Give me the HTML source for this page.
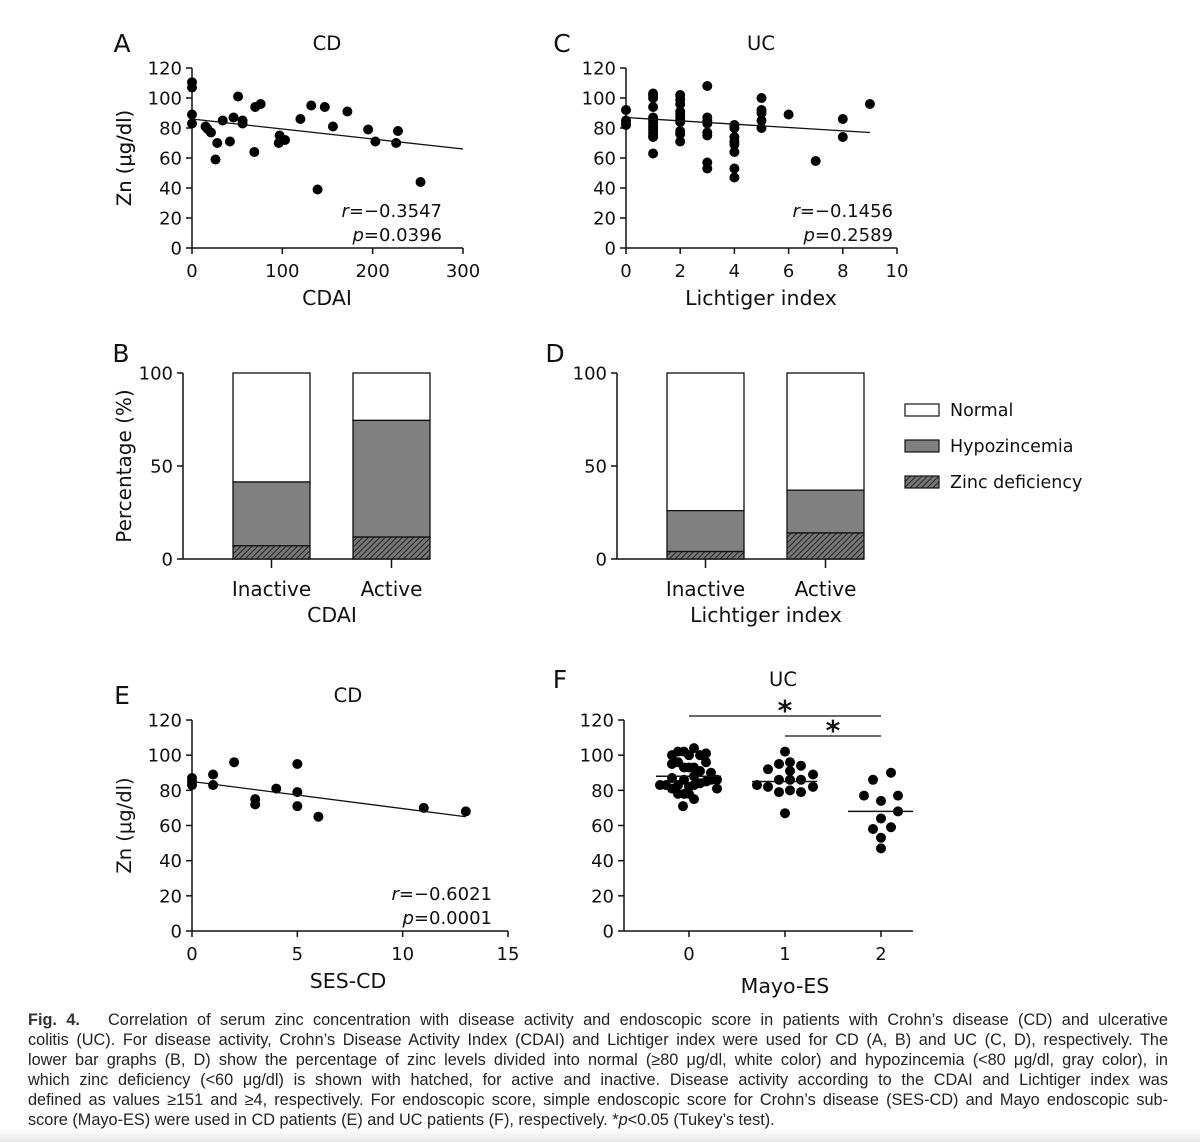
<!DOCTYPE html>
<html><head><meta charset="utf-8"><style>
html,body{margin:0;padding:0;background:#fff;}
body{width:1200px;height:1142px;position:relative;overflow:hidden;font-family:"DejaVu Sans","Liberation Sans",sans-serif;}
svg text{font-family:"DejaVu Sans","Liberation Sans",sans-serif;fill:#111;}
#cap{position:absolute;left:28px;top:1010px;width:1140px;font-family:"Liberation Sans",sans-serif;font-size:16.3px;line-height:20px;color:#222;}
#cap span.l{display:block;text-align:justify;text-align-last:justify;white-space:nowrap;}
#cap span.last{text-align-last:left;}
#grad{position:absolute;left:0;top:1128px;width:1200px;height:14px;background:linear-gradient(#fff,#e8e8e8);}
</style></head><body>
<svg id="fig" width="1200" height="1010">
<defs><pattern id="hatch" width="4" height="4" patternUnits="userSpaceOnUse" patternTransform="rotate(45)"><rect width="4" height="4" fill="#777"/><line x1="0" y1="0" x2="0" y2="4" stroke="#222" stroke-width="2"/></pattern></defs>
</svg>
<div id="grad"></div>
<div id="cap">
<span class="l"><b style="color:#333">Fig. 4.</b>&nbsp;&nbsp; Correlation of serum zinc concentration with disease activity and endoscopic score in patients with Crohn’s disease (CD) and ulcerative</span>
<span class="l">colitis (UC). For disease activity, Crohn’s Disease Activity Index (CDAI) and Lichtiger index were used for CD (A, B) and UC (C, D), respectively. The</span>
<span class="l">lower bar graphs (B, D) show the percentage of zinc levels divided into normal (≥80 μg/dl, white color) and hypozincemia (&lt;80 μg/dl, gray color), in</span>
<span class="l">which zinc deficiency (&lt;60 μg/dl) is shown with hatched, for active and inactive. Disease activity according to the CDAI and Lichtiger index was</span>
<span class="l">defined as values ≥151 and ≥4, respectively. For endoscopic score, simple endoscopic score for Crohn’s disease (SES-CD) and Mayo endoscopic sub-</span>
<span class="l last">score (Mayo-ES) were used in CD patients (E) and UC patients (F), respectively. *<i>p</i>&lt;0.05 (Tukey’s test).</span>
</div>
<script>
// Panel A data
const aX=[0,0,0,0,15,17,21,26,28,34,42,46,51,56,56,69,70,76,96,97,103,120,132,139,147,156,172,195,203,226,228,253];
const aY=[110.5,107,89,83,81,79.5,77,59,70,85,71,87,101,85,83,64,94,96,70,75,72,86,95,39,94,81,91,79,71,70,78,44];
const aFit=[86,66];
// Panel C data
const cX=[0,0,0,0,1,1,1,1,1,1,1,1,1,1,1,1,1,2,2,2,2,2,2,2,2,2,2,2,3,3,3,3,3,3,3,3,4,4,4,4,4,4,4,4,5,5,5,5,5,6,7,8,8,9];
const cY=[92,85,83,82,103,102,100,94,87,85,83,81,79,77,75,74,63,102,99,96,91,89,87,85,84,78,76,71,108,87,85,83,77,75,57,53,82,80,74,71,69,64,53,47,100,92,90,85,80,89,58,86,74,96];
const cFit=[87,77];
// Panel B/D data
const barCats=["Inactive","Active"];
const bDef=[7.1,11.8], bHypo=[41.4,74.5];
const dDef=[4,14], dHypo=[26,37];
const legendLabels=["Normal","Hypozincemia","Zinc deficiency"];
// Panel E data
const eX=[0,0,0,1,1,2,3,3,4,5,5,5,6,11,13];
const eY=[87,85,83,89,83,96,75,72,81,95,79,71,65,70,68];
const eFit=[85,65];
// Panel F data
const fCats=["0","1","2"];
const f0=[100,102,102,104,100,100,101,95,96,93,93,93,91,96,90,88,87,83,83,81,83,86,82,83,84,85,86,81,86,78,78,78,75,71];
const f0j=[-17,-11,-5,5,0,11,17,-17,-11,-5,0,5,11,17,22,5,-17,-29,-23,-17,-11,-5,0,5,11,17,22,28,28,-11,-5,0,5,-6];
const f1=[102,92,95,96,94,91,89,83,82,86,86,86,82,79,80,79,67];
const f1j=[0,-17,-6,5,16,5,28,-28,-17,-6,5,16,28,-6,5,16,0];
const f2=[90,86,77,74,77,68,64,58,59,53,47];
const f2j=[10,-8,-17,0,17,17,0,-8,10,0,0];
const fMed=[88,85,68];

const svg=document.getElementById('fig');
const NS='http://www.w3.org/2000/svg';
function mk(tag,attrs,parent){const e=document.createElementNS(NS,tag);for(const k in attrs)e.setAttribute(k,attrs[k]);(parent||svg).appendChild(e);return e;}
function txt(x,y,s,size,anchor,parent,extra){const t=mk('text',Object.assign({x:x,y:y,'font-size':size,'text-anchor':anchor||'middle'},extra||{}),parent);t.textContent=s;return t;}
function line(x1,y1,x2,y2,parent,w){return mk('line',{x1:x1,y1:y1,x2:x2,y2:y2,stroke:'#111','stroke-width':w||1.5},parent);}

function yAxis(g,ax,y0,y1,vmax,ticks){
  const sy=v=>y0-(v/vmax)*(y0-y1);
  line(ax,y0,ax,y1,g);
  ticks.forEach(v=>{line(ax-6,sy(v),ax,sy(v),g);txt(ax-10,sy(v)+6.5,String(v),18,'end',g);});
  return sy;
}
function scatterPanel(name,ax,y0,y1,xmax,xticks,xs,ys,fit,letter,lx,title,tx,xtitle,r,p){
  const g=mk('g',{});
  
  
  const sy=yAxis(g,ax,y0,y1,120,[0,20,40,60,80,100,120]);
  const xr=xticks.xr;
  const sx=v=>ax+v/xmax*(xr-ax);
  line(ax,y0,xr,y0,g);
  xticks.v.forEach(v=>{line(sx(v),y0,sx(v),y0+6,g);txt(sx(v),y0+29,String(v),18,'middle',g);});
  xs.forEach((v,i)=>{const c=mk('circle',{cx:sx(v),cy:sy(ys[i]),r:5,fill:'#000'},g);
    
    });
  const fl=line(sx(0),sy(fit[0]),sx(xticks.fitEnd),sy(fit[1]),g,1.3);
  
  
  txt(lx,y1-16,letter,25,'middle',g);
  txt(tx,y1-18,title,19.5,'middle',g);
  txt(tx,y0+57,xtitle,20.5,'middle',g);
  txt(125,(y0+y1)/2,'Zn (μg/dl)',19.5,'middle',g,{transform:`rotate(-90 125 ${(y0+y1)/2})`,dy:'6'});
  const rt=txt(xticks.rx,y0-31,'',18,'end',g);rt.innerHTML='<tspan font-style="italic">r</tspan>='+r;
  const pt=txt(xticks.rx,y0-7,'',18,'end',g);pt.innerHTML='<tspan font-style="italic">p</tspan>='+p;
}
scatterPanel('panel-a-cdai-scatter',192,248,68,300,{v:[0,100,200,300],xr:463,fitEnd:300,rx:442},aX,aY,aFit,'A',122,'CD',327,'CDAI','−0.3547','0.0396');
scatterPanel('panel-c-lichtiger-scatter',626,248,68,10,{v:[0,2,4,6,8,10],xr:897,fitEnd:9,rx:893},cX,cY,cFit,'C',562,'UC',761,'Lichtiger index','−0.1456','0.2589');
scatterPanel('panel-e-sescd-scatter',192,931,720,15,{v:[0,5,10,15],xr:508,fitEnd:13,rx:492},eX,eY,eFit,'E',122,'CD',348,'SES-CD','−0.6021','0.0001');

function barPanel(name,ax,def,hypo,letter,xtitle,ylabel){
  const g=mk('g',{});
  
  
  const sy=yAxis(g,ax,559,373,100,[0,50,100]);
  const bx=[ax+50,ax+170];
  const bw=77;
  line(ax,559,bx[1]+bw,559,g);
  barCats.forEach((c,i)=>{
    const x=bx[i];
    const r1=mk('rect',{x:x,y:sy(100),width:bw,height:sy(hypo[i])-sy(100),fill:'#fff',stroke:'#111','stroke-width':1.3},g);
    
    
    const r2=mk('rect',{x:x,y:sy(hypo[i]),width:bw,height:sy(def[i])-sy(hypo[i]),fill:'#808080',stroke:'#111','stroke-width':1.3},g);
    
    
    const r3=mk('rect',{x:x,y:sy(def[i]),width:bw,height:sy(0)-sy(def[i]),fill:'url(#hatch)',stroke:'#111','stroke-width':1.3},g);
    
    
    line(x+bw/2,559,x+bw/2,568,g);
    txt(x+bw/2,596,c,20,'middle',g);
  });
  txt(ax+149,622,xtitle,20.5,'middle',g);
  txt(ax-62,362,letter,25,'middle',g);
  if(ylabel) txt(125,466,'Percentage (%)',20,'middle',g,{transform:'rotate(-90 125 466)',dy:'6'});
}
barPanel('panel-b-cdai-bars',183,bDef,bHypo,'B','CDAI',true);
barPanel('panel-d-lichtiger-bars',617,dDef,dHypo,'D','Lichtiger index',false);

// legend
const lg=mk('g',{});


const fills=['#fff','#808080','url(#hatch)'];
legendLabels.forEach((l,i)=>{
  const y=410+i*36;
  mk('rect',{x:905,y:y-6,width:34,height:12,fill:fills[i],stroke:'#111','stroke-width':1.2},lg);
  const t=txt(950,y+6,l,17.5,'start',lg);
  
  
});

// Panel F
(function(){
  const g=mk('g',{});
  
  
  const ax=624;
  const sy=yAxis(g,ax,931,720,120,[0,20,40,60,80,100,120]);
  const cx=[689,785,881];
  line(ax,931,913,931,g);
  fCats.forEach((c,i)=>{line(cx[i],931,cx[i],937,g);txt(cx[i],960,c,18,'middle',g);});
  [[f0,f0j],[f1,f1j],[f2,f2j]].forEach((grp,i)=>{
    grp[0].forEach((v,k)=>{const c=mk('circle',{cx:cx[i]+grp[1][k],cy:sy(v),r:5,fill:'#000'},g);
      
      });
    const m=line(cx[i]-33,sy(fMed[i]),cx[i]+32,sy(fMed[i]),g,1.5);
    
    
  });
  line(cx[0],716,cx[2],716,g,1.3);line(cx[1],736,cx[2],736,g,1.3);
  txt(785,720,'*',28,'middle',g,{'font-weight':'bold'});txt(833,740,'*',28,'middle',g,{'font-weight':'bold'});
  txt(560,688,'F',25,'middle',g);
  txt(783,686,'UC',19.5,'middle',g);
  txt(785,993,'Mayo-ES',20.5,'middle',g);
})();
</script>
</body></html>
